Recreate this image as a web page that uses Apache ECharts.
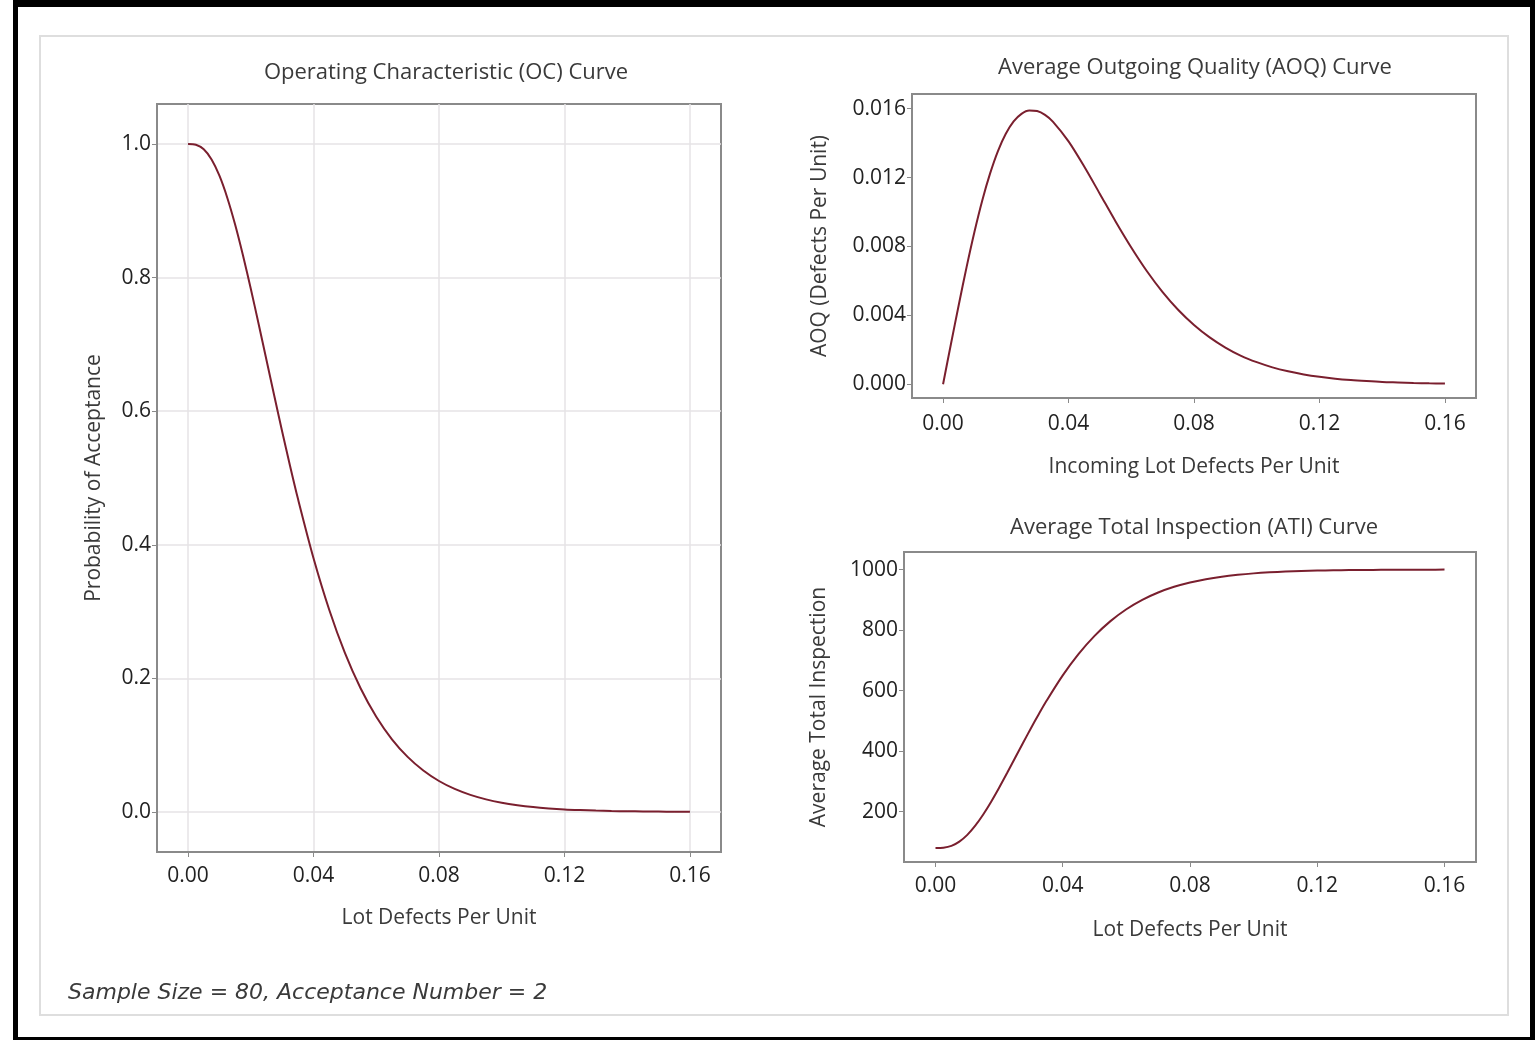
<!DOCTYPE html>
<html>
<head>
<meta charset="utf-8">
<script src="https://cdn.jsdelivr.net/npm/echarts@6/dist/echarts.min.js"></script>
<style>
  html, body { margin: 0; padding: 0; background: #ffffff; }
  #outer { position: absolute; left: 13px; top: 0; width: 1512px; height: 1030px;
           border-left: 5px solid #000; border-top: 7px solid #000; border-right: 5px solid #000; border-bottom: 3px solid #000; }
  #inner { position: absolute; left: 39px; top: 35px; width: 1466px; height: 977px; border: 2px solid #dedede; }
  #chart { position: absolute; left: 0; top: 0; width: 1535px; height: 1040px; }
</style>
</head>
<body>
<div id="outer"></div>
<div id="inner"></div>
<div id="chart"></div>
<script>
// Lot defects per unit (x values shared by all three curves)
const defectsPerUnit = [0, 0.0025, 0.005, 0.0075, 0.01, 0.0125, 0.015, 0.0175, 0.02, 0.0225, 0.025, 0.0275, 0.03, 0.0325, 0.035, 0.04, 0.045, 0.05, 0.055, 0.06, 0.065, 0.07, 0.075, 0.08, 0.085, 0.09, 0.095, 0.1, 0.105, 0.11, 0.115, 0.12, 0.125, 0.13, 0.135, 0.14, 0.145, 0.15, 0.155, 0.16];
// Probability of acceptance (OC curve)
const probAcceptance = [1.0, 0.9989, 0.9921, 0.9769, 0.9526, 0.9197, 0.8795, 0.8335, 0.7834, 0.7306, 0.6767, 0.6227, 0.5697, 0.5184, 0.4695, 0.3799, 0.3028, 0.2381, 0.1851, 0.1425, 0.1088, 0.0824, 0.0620, 0.0463, 0.0344, 0.0255, 0.0188, 0.0138, 0.0101, 0.0073, 0.0053, 0.0038, 0.0028, 0.0020, 0.0014, 0.0010, 0.0007, 0.0005, 0.0004, 0.0003];
// Average outgoing quality
const aoqValues = [0, 0.00232, 0.00460, 0.00680, 0.00884, 0.01067, 0.01224, 0.01354, 0.01454, 0.01526, 0.01570, 0.01589, 0.01586, 0.01564, 0.01525, 0.01410, 0.01264, 0.01105, 0.00945, 0.00794, 0.00656, 0.00535, 0.00431, 0.00344, 0.00272, 0.00213, 0.00165, 0.00128, 0.00098, 0.00075, 0.00057, 0.00043, 0.00032, 0.00024, 0.00018, 0.00013, 0.00010, 0.00007, 0.00005, 0.00004];
// Average total inspection
const atiValues = [80, 81.1, 87.3, 101.3, 123.6, 153.9, 190.9, 233.2, 279.3, 327.8, 377.5, 427.1, 475.9, 523.0, 568.1, 650.5, 721.5, 781.0, 829.7, 868.9, 899.9, 924.2, 943.0, 957.4, 968.3, 976.6, 982.7, 987.4, 990.8, 993.3, 995.1, 996.5, 997.5, 998.2, 998.7, 999.1, 999.3, 999.5, 999.7, 999.8];

// Tick values
const xTicks = [0, 0.04, 0.08, 0.12, 0.16];
const ocTicks = [0, 0.2, 0.4, 0.6, 0.8, 1.0];
const aoqTicks = [0, 0.004, 0.008, 0.012, 0.016];
const atiTicks = [200, 400, 600, 800, 1000];

const titles = ['Operating Characteristic (OC) Curve', 'Average Outgoing Quality (AOQ) Curve', 'Average Total Inspection (ATI) Curve'];
const xNames = ['Lot Defects Per Unit', 'Incoming Lot Defects Per Unit', 'Lot Defects Per Unit'];
const yNames = ['Probability of Acceptance', 'AOQ (Defects Per Unit)', 'Average Total Inspection'];
const note = 'Sample Size = 80, Acceptance Number = 2';

const FONT = 'Open Sans';
const lineColor = '#7a1f2e';
const axisGray = '#8a8a8a';

function pairs(ys) { return defectsPerUnit.map((x, i) => [x, ys[i]]); }

function xAxis(gi, name, gap, margin) {
  return {
    type: 'value', gridIndex: gi, min: -0.0099, max: 0.1699,
    name: name, nameLocation: 'middle', nameGap: gap,
    nameTextStyle: { fontFamily: FONT, fontSize: 21, color: '#3a3a3a' },
    axisLine: { show: true, onZero: false, lineStyle: { color: axisGray, width: 2 } },
    axisTick: { show: true, length: 5, customValues: xTicks, lineStyle: { color: axisGray, width: 1 } },
    axisLabel: { customValues: xTicks, margin: margin, fontFamily: FONT, fontSize: 21, color: '#222', formatter: v => v.toFixed(2) },
    splitLine: { show: gi === 0, lineStyle: { color: '#e6e3e6', width: 1.5 } }
  };
}
function yAxis(gi, name, gap, min, max, ticks, fmt) {
  return {
    type: 'value', gridIndex: gi, min: min, max: max,
    name: name, nameLocation: 'middle', nameGap: gap, nameRotate: 90,
    nameTextStyle: { fontFamily: FONT, fontSize: 21, color: '#3a3a3a' },
    axisLine: { show: true, onZero: false, lineStyle: { color: axisGray, width: 2 } },
    axisTick: { show: true, length: 5, customValues: ticks, lineStyle: { color: axisGray, width: 1 } },
    axisLabel: { customValues: ticks, margin: 6, fontFamily: FONT, fontSize: 21, color: '#222', formatter: fmt },
    splitLine: { show: gi === 0, lineStyle: { color: '#e6e3e6', width: 1.5 } }
  };
}

const chart = echarts.init(document.getElementById('chart'), null, { renderer: 'canvas' });
chart.setOption({
  animation: false,
  backgroundColor: 'transparent',
  title: [
    { text: titles[0], left: 441, top: 57, textAlign: 'center', textStyle: { fontFamily: FONT, fontSize: 22, fontWeight: 'normal', color: '#3a3a3a' } },
    { text: titles[1], left: 1190, top: 52, textAlign: 'center', textStyle: { fontFamily: FONT, fontSize: 22, fontWeight: 'normal', color: '#3a3a3a' } },
    { text: titles[2], left: 1189, top: 512, textAlign: 'center', textStyle: { fontFamily: FONT, fontSize: 22, fontWeight: 'normal', color: '#3a3a3a' } }
  ],
  grid: [
    { left: 157, top: 104, width: 564, height: 748, show: true, borderColor: axisGray, borderWidth: 2, backgroundColor: 'transparent' },
    { left: 912, top: 94, width: 564, height: 304, show: true, borderColor: axisGray, borderWidth: 2, backgroundColor: 'transparent' },
    { left: 904, top: 552, width: 572, height: 310, show: true, borderColor: axisGray, borderWidth: 2, backgroundColor: 'transparent' }
  ],
  xAxis: [
    xAxis(0, xNames[0], 56, 14),
    xAxis(1, xNames[1], 59, 16),
    xAxis(2, xNames[2], 58, 14)
  ],
  yAxis: [
    yAxis(0, yNames[0], 52, -0.06, 1.06, ocTicks, v => v.toFixed(1)),
    yAxis(1, yNames[1], 81, -0.0008, 0.01685, aoqTicks, v => v.toFixed(3)),
    yAxis(2, yNames[2], 74, 34, 1058, atiTicks, v => String(Math.round(v)))
  ],
  series: [
    { type: 'line', xAxisIndex: 0, yAxisIndex: 0, data: pairs(probAcceptance), showSymbol: false, smooth: 0.3, lineStyle: { color: lineColor, width: 2 } },
    { type: 'line', xAxisIndex: 1, yAxisIndex: 1, data: pairs(aoqValues), showSymbol: false, smooth: 0.3, lineStyle: { color: lineColor, width: 2 } },
    { type: 'line', xAxisIndex: 2, yAxisIndex: 2, data: pairs(atiValues), showSymbol: false, smooth: 0.3, lineStyle: { color: lineColor, width: 2 } }
  ],
  graphic: [
    { type: 'text', left: 68, top: 982, style: { text: note, fontFamily: 'DejaVu Sans', fontSize: 22, fontStyle: 'italic', fill: '#3a3a3a' } }
  ]
});
</script>
</body>
</html>
